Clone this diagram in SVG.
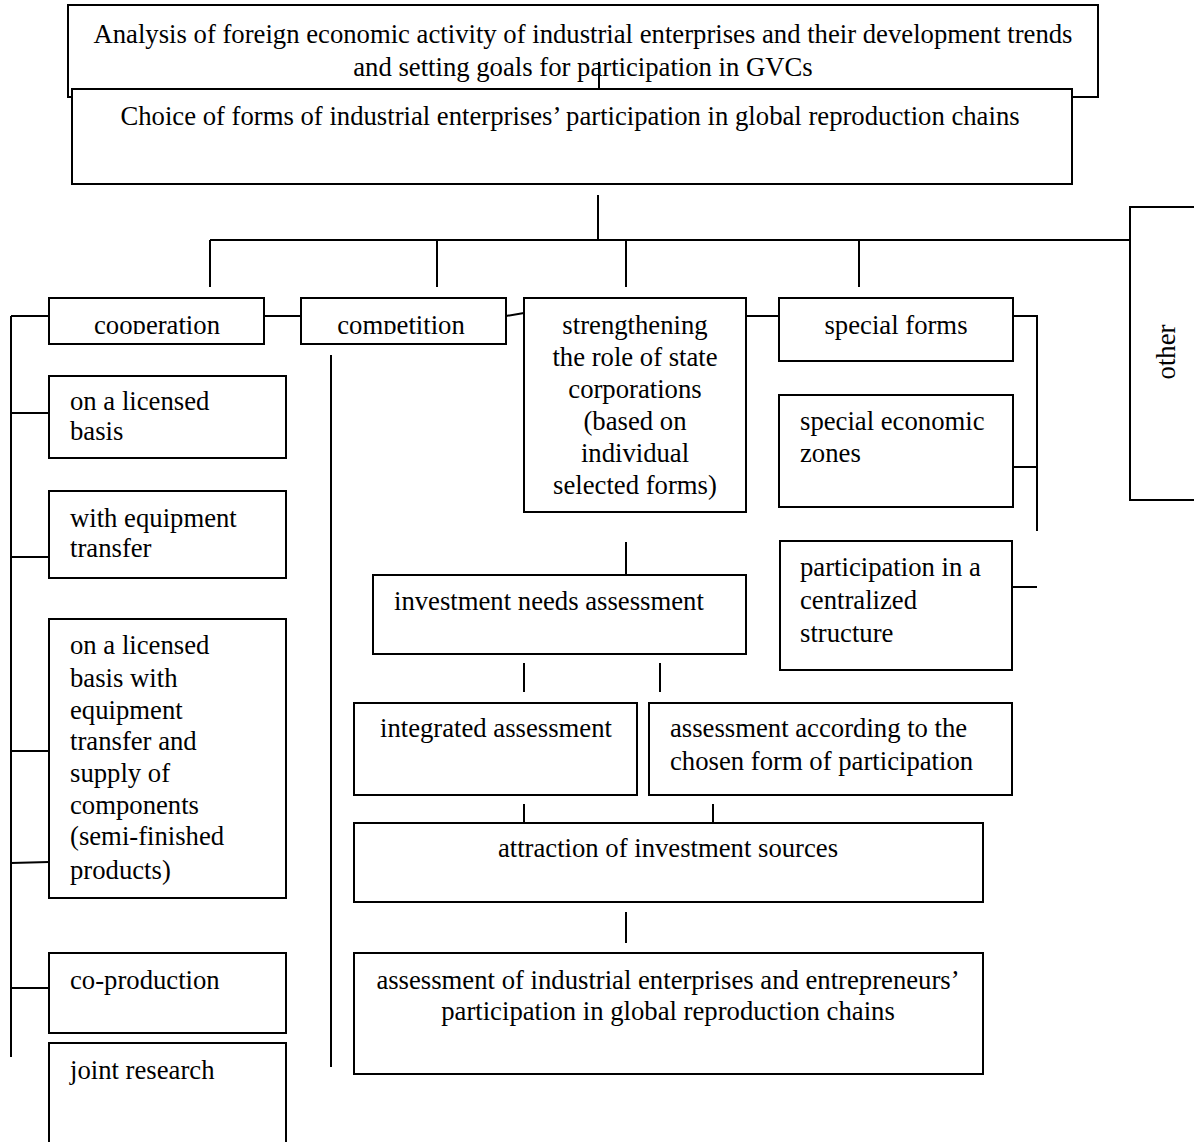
<svg xmlns="http://www.w3.org/2000/svg" width="1194" height="1142" viewBox="0 0 1194 1142">
<defs>
<style>
.b{fill:#fff;stroke:#000;stroke-width:2}
.t{font-family:"Liberation Serif","Times New Roman",serif;font-size:26.7px;fill:#000}
.c{text-anchor:middle}
.l{fill:none;stroke:#000;stroke-width:2}
</style>
<clipPath id="clipCoop"><rect x="49" y="298" width="215" height="36"/></clipPath>
<clipPath id="clipComp"><rect x="301" y="298" width="205" height="36"/></clipPath>
</defs>
<rect width="1194" height="1142" fill="#fff"/>

<g id="connectors">
<path class="l" d="M598 195V240M210 240H1130M210 240V287M437 240V287M626 240V287M859 240V287"/>
<path class="l" d="M11 316H49M264 316H301M506 316L524 313M746 316H779M1013 316H1037V531M1013 467H1037M1012 587H1037"/>
<path class="l" d="M11 316V1057M11 413H49M11 557H49M11 751H49M11 863L49 862M11 988H49"/>
<path class="l" d="M331 355V1067"/>
<path class="l" d="M626 542V574M524 663V692M660 663V692M524 804V823M713 804V823M626 912V943"/>
</g>

<g id="analysis">
<rect class="b" x="68" y="5" width="1030" height="92"/>
<text class="t c" x="583" y="43">Analysis of foreign economic activity of industrial enterprises and their development trends</text>
<text class="t c" x="583" y="76">and setting goals for participation in GVCs</text>
<path class="l" d="M599 62V89"/>
</g>
<g id="choice">
<rect class="b" x="72" y="89" width="1000" height="95"/>
<text class="t c" x="570" y="125">Choice of forms of industrial enterprises’ participation in global reproduction chains</text>
</g>

<g id="other">
<rect class="b" x="1130" y="207" width="100" height="293"/>
<text class="t c" transform="translate(1175 352) rotate(-90)">other</text>
</g>

<g id="cooperation">
<rect class="b" x="49" y="298" width="215" height="46"/>
<text class="t c" x="157" y="334" clip-path="url(#clipCoop)">cooperation</text>
</g>
<g id="competition">
<rect class="b" x="301" y="298" width="205" height="46"/>
<text class="t c" x="401" y="334" clip-path="url(#clipComp)">competition</text>
</g>
<g id="strengthening">
<rect class="b" x="524" y="298" width="222" height="214"/>
<text class="t c" x="635" y="334">strengthening</text>
<text class="t c" x="635" y="366">the role of state</text>
<text class="t c" x="635" y="398">corporations</text>
<text class="t c" x="635" y="430">(based on</text>
<text class="t c" x="635" y="462">individual</text>
<text class="t c" x="635" y="494">selected forms)</text>
</g>
<g id="special-forms">
<rect class="b" x="779" y="298" width="234" height="63"/>
<text class="t c" x="896" y="334">special forms</text>
</g>
<g id="sez">
<rect class="b" x="779" y="395" width="234" height="112"/>
<text class="t" x="800" y="430">special economic</text>
<text class="t" x="800" y="462">zones</text>
</g>
<g id="centralized">
<rect class="b" x="780" y="541" width="232" height="129"/>
<text class="t" x="800" y="576">participation in a</text>
<text class="t" x="800" y="609">centralized</text>
<text class="t" x="800" y="642">structure</text>
</g>

<g id="licensed">
<rect class="b" x="49" y="376" width="237" height="82"/>
<text class="t" x="70" y="410">on a licensed</text>
<text class="t" x="70" y="440">basis</text>
</g>
<g id="equipment">
<rect class="b" x="49" y="491" width="237" height="87"/>
<text class="t" x="70" y="527">with equipment</text>
<text class="t" x="70" y="557">transfer</text>
</g>
<g id="licensed-equipment">
<rect class="b" x="49" y="619" width="237" height="279"/>
<text class="t" x="70" y="654">on a licensed</text>
<text class="t" x="70" y="687">basis with</text>
<text class="t" x="70" y="719">equipment</text>
<text class="t" x="70" y="750">transfer and</text>
<text class="t" x="70" y="782">supply of</text>
<text class="t" x="70" y="814">components</text>
<text class="t" x="70" y="845">(semi-finished</text>
<text class="t" x="70" y="879">products)</text>
</g>
<g id="co-production">
<rect class="b" x="49" y="953" width="237" height="80"/>
<text class="t" x="70" y="989">co-production</text>
</g>
<g id="joint-research">
<rect class="b" x="49" y="1043" width="237" height="120"/>
<text class="t" x="70" y="1079">joint research</text>
</g>

<g id="investment-needs">
<rect class="b" x="373" y="575" width="373" height="79"/>
<text class="t" x="394" y="610">investment needs assessment</text>
</g>
<g id="integrated">
<rect class="b" x="354" y="703" width="283" height="92"/>
<text class="t" x="380" y="737">integrated assessment</text>
</g>
<g id="according">
<rect class="b" x="649" y="703" width="363" height="92"/>
<text class="t" x="670" y="737">assessment according to the</text>
<text class="t" x="670" y="770">chosen form of participation</text>
</g>
<g id="attraction">
<rect class="b" x="354" y="823" width="629" height="79"/>
<text class="t c" x="668" y="857">attraction of investment sources</text>
</g>
<g id="final">
<rect class="b" x="354" y="953" width="629" height="121"/>
<text class="t c" x="668" y="989">assessment of industrial enterprises and entrepreneurs’</text>
<text class="t c" x="668" y="1020">participation in global reproduction chains</text>
</g>
</svg>
